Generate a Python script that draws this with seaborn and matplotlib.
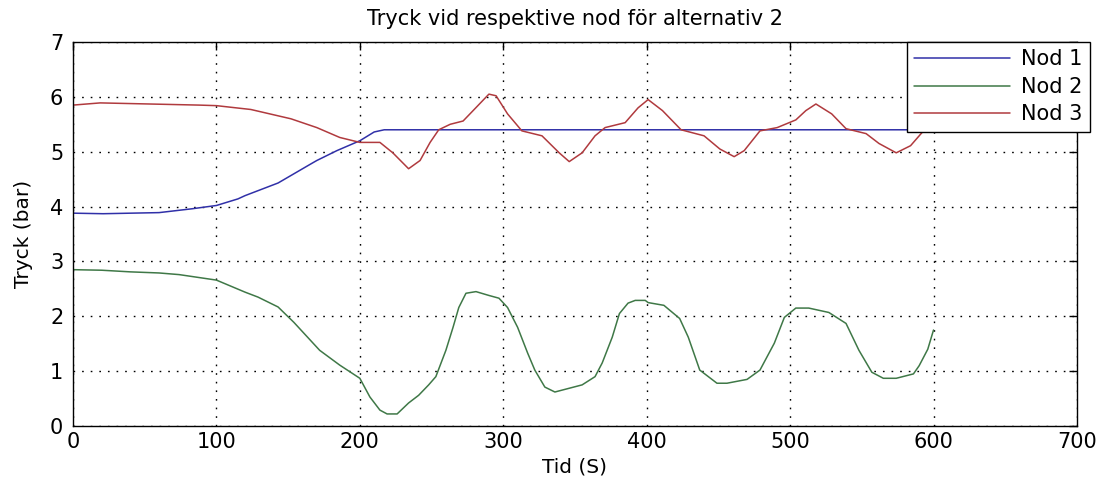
import numpy as np
import pandas as pd
import matplotlib
matplotlib.use("Agg")
import matplotlib.pyplot as plt
import seaborn as sns

# Time (s) and pressure (bar) at each node
nod1_t = [0, 21, 60, 83, 100, 115, 120, 143, 166, 170, 184, 200, 210, 217, 600]
nod1_p = [3.88, 3.87, 3.89, 3.96, 4.02, 4.14, 4.2, 4.43, 4.78, 4.84, 5.02, 5.2, 5.36, 5.4, 5.4]

nod2_t = [0, 20, 40, 60, 74, 100, 120, 129, 143, 154, 172, 186, 200, 207, 214, 219, 226,
          234, 241, 248, 253, 260, 265, 269, 274, 281, 290, 297, 303, 310, 317, 322,
          329, 336, 355, 364, 369, 376, 381, 387, 392, 399, 401, 412, 423, 429, 437,
          449, 456, 470, 479, 489, 496, 504, 513, 527, 539, 548, 557, 565, 574, 586,
          590, 596, 600]
nod2_p = [2.85, 2.84, 2.81, 2.79, 2.76, 2.66, 2.44, 2.35, 2.17, 1.89, 1.38, 1.11, 0.87, 0.53, 0.29, 0.22, 0.22,
          0.42, 0.56, 0.75, 0.9, 1.38, 1.8, 2.16, 2.42, 2.45, 2.38, 2.33, 2.16, 1.8, 1.33, 1.02,
          0.71, 0.62, 0.75, 0.9, 1.15, 1.62, 2.05, 2.24, 2.29, 2.29, 2.25, 2.2, 1.96, 1.62, 1.02,
          0.78, 0.78, 0.85, 1.02, 1.51, 1.98, 2.15, 2.15, 2.07, 1.87, 1.38, 0.98, 0.87, 0.87, 0.95,
          1.1, 1.4, 1.75]

nod3_t = [0, 19, 88, 100, 124, 152, 170, 186, 200, 214, 223, 234, 242, 249, 255, 263,
          272, 279, 290, 295, 303, 313, 327, 339, 346, 355, 364, 371, 385, 394, 401,
          411, 424, 440, 451, 461, 468, 479, 491, 504, 511, 518, 529, 539, 553, 562,
          574, 584, 593, 600]
nod3_p = [5.85, 5.89, 5.85, 5.84, 5.77, 5.6, 5.44, 5.26, 5.17, 5.17, 4.98, 4.69, 4.84, 5.17, 5.4, 5.5,
          5.56, 5.75, 6.05, 6.02, 5.69, 5.38, 5.29, 4.98, 4.82, 4.98, 5.29, 5.44, 5.53, 5.8, 5.95,
          5.75, 5.4, 5.29, 5.05, 4.91, 5.02, 5.38, 5.44, 5.58, 5.75, 5.87, 5.69, 5.42, 5.33, 5.15,
          4.98, 5.11, 5.38, 5.5]

series_names = ["Nod 1", "Nod 2", "Nod 3"]
x_ticks = [0, 100, 200, 300, 400, 500, 600, 700]
y_ticks = [0, 1, 2, 3, 4, 5, 6, 7]

df = pd.concat([
    pd.DataFrame({"t": nod1_t, "p": nod1_p, "nod": series_names[0]}),
    pd.DataFrame({"t": nod2_t, "p": nod2_p, "nod": series_names[1]}),
    pd.DataFrame({"t": nod3_t, "p": nod3_p, "nod": series_names[2]}),
], ignore_index=True)

sns.set_style("white")
plt.rcParams["font.family"] = ["DejaVu Sans"]
plt.rcParams["text.color"] = "black"
plt.rcParams["axes.labelcolor"] = "black"

palette = {"Nod 1": "#3030a8", "Nod 2": "#3f7847", "Nod 3": "#b03a3e"}

fig = plt.figure(figsize=(11.16, 4.84), dpi=100)
ax = fig.add_axes([0.0654, 0.1198, 0.8996, 0.7934])

sns.lineplot(data=df, x="t", y="p", hue="nod", palette=palette, sort=False,
             estimator=None, linewidth=1.1, ax=ax, legend=True)

ax.set_xlim(0, 700)
ax.set_ylim(0, 7)
ax.set_xticks(x_ticks)
ax.set_yticks(y_ticks)
ax.grid(True, color="black", linestyle=(0, (1.2, 5)), linewidth=1.0)
ax.tick_params(direction="in", length=6, width=1, top=True, right=True,
               labelsize=15, colors="black")
ax.tick_params(axis="x", pad=4)
ax.tick_params(axis="y", pad=7)
for s in ax.spines.values():
    s.set_color("black")
    s.set_linewidth(1.0)
    s.set_visible(True)

ax.set_title("Tryck vid respektive nod för alternativ 2", fontsize=15, pad=12)
ax.set_xlabel("Tid (S)", fontsize=14.5, labelpad=4)
ax.set_ylabel("Tryck (bar)", fontsize=14.5, labelpad=12)

leg = ax.legend(loc="upper right", bbox_to_anchor=(1.013, 1.0), borderaxespad=0,
                fontsize=15, handlelength=4.6, handletextpad=0.55, labelspacing=0.36,
                fancybox=False, framealpha=1, edgecolor="black", borderpad=0.35)
leg.get_frame().set_linewidth(1.0)
leg.set_zorder(10)

fig.savefig("out.png", dpi=100)
